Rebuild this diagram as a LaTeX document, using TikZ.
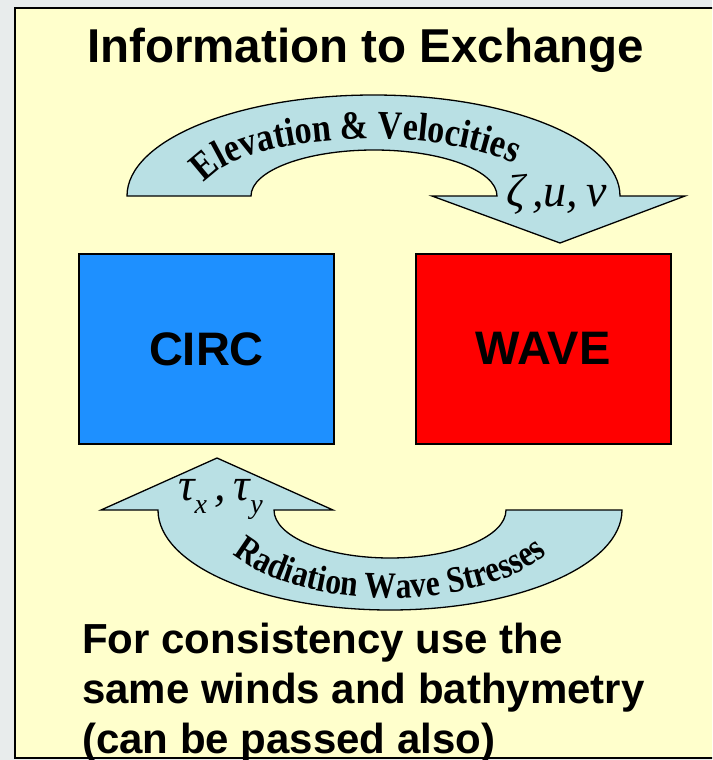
\documentclass[tikz,border=0pt]{standalone}
\usepackage{fontspec}
\setmainfont{Liberation Sans}
\newfontfamily\serifart{Liberation Serif}[FakeStretch=0.85]
\newfontfamily\serifmath{Liberation Serif}
\usetikzlibrary{decorations.text}
\definecolor{slidegray}{RGB}{232,236,236}
\definecolor{paleyellow}{RGB}{255,255,204}
\definecolor{arrowblue}{RGB}{185,224,228}
\definecolor{circblue}{RGB}{30,144,255}
\newcommand\arctop{\serifart\bfseries\fontsize{40}{40}\selectfont}
\newcommand\arcbot{\serifart\bfseries\fontsize{37}{37}\selectfont}
\tikzstyle{bigarrow} = [draw=black,line width=1.3pt,fill=arrowblue,line join=miter]

\begin{document}
\begin{tikzpicture}
        [
            x=1pt,y=-1pt,
            box/.style={rectangle,draw=black,line width=2pt,minimum width=255pt,minimum height=190pt,font=\bfseries\fontsize{47}{47}\selectfont},
            mathlbl/.style={font=\serifmath\itshape\fontsize{46}{46}\selectfont,anchor=base west,inner sep=0pt},
        ]
    \useasboundingbox (0,0) rectangle (712,760);
    \clip (0,0) rectangle (712,760);
    \fill[slidegray] (0,0) rectangle (712,760);
    \filldraw[fill=paleyellow,draw=black,line width=2.5pt] (15,8) rectangle (730,758);

    \node[font=\bfseries\fontsize{47.5}{47.5}\selectfont] (title) at (365.5,50) {Information to Exchange};

    \node[box,fill=circblue] (circ) at (206.5,349) {CIRC};
    \node[box,fill=red     ] (wave) at (543,348.5) {WAVE};

    % upper arrow, CIRC to WAVE
    \draw[bigarrow] (127,196) arc[start angle=180,end angle=360,x radius=246.5,y radius=101]
        -- (685,196) -- (560,243) -- (432,196) -- (497,196)
        arc[start angle=0,end angle=-180,x radius=123,y radius=46] -- cycle;
    \path[decorate,decoration={text along path,text align=center,text={|\arctop|Elevation {\&} Velocities}}]
        (372,196) ++(186:172 and 57) arc[start angle=186,end angle=330,x radius=172,y radius=57];
    \node[mathlbl] (zuv) at (506,206) {ζ\,,u,\,v};

    % lower arrow, WAVE to CIRC
    \draw[bigarrow] (158,510) -- (101,510) -- (217,458) -- (333,510) -- (274,510)
        arc[start angle=180,end angle=0,x radius=116,y radius=48] -- (622,510)
        arc[start angle=0,end angle=180,x radius=232,y radius=100] -- cycle;
    \path[decorate,decoration={text along path,text align=center,text={|\arcbot|Radiation Wave Stresses}}]
        (390,510) ++(153:182 and 88) arc[start angle=153,end angle=27,x radius=182,y radius=88];
    \node[mathlbl] (tau) at (178,500)
        {τ\raisebox{-13pt}{\fontsize{28}{28}\selectfont x}\,,\,τ\raisebox{-13pt}{\fontsize{28}{28}\selectfont y}};

    \node[font=\bfseries\fontsize{42}{50}\selectfont,anchor=north west,align=left,inner sep=0pt] (note) at (82,623)
        {For consistency use the\\same winds and bathymetry\\(can be passed also)};
\end{tikzpicture}
\end{document}
